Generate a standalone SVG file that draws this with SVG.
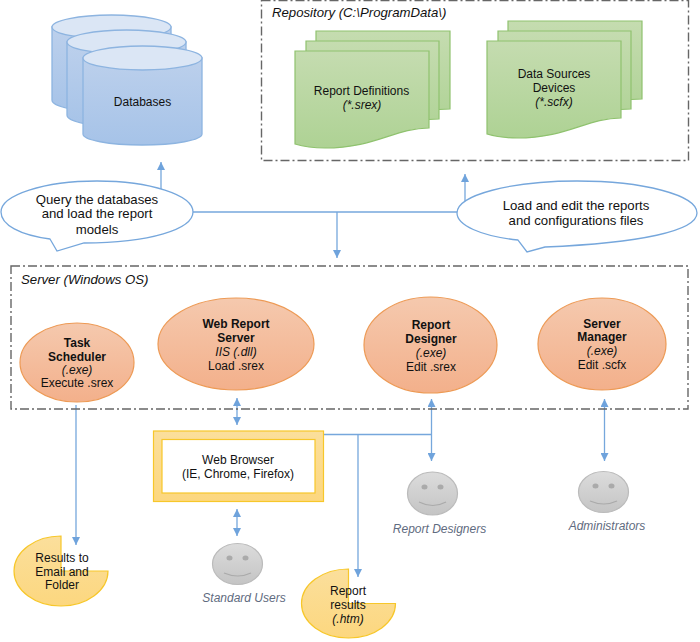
<svg xmlns="http://www.w3.org/2000/svg" width="700" height="642" viewBox="0 0 700 642">
<style>
text{font-family:"Liberation Sans",Arial,sans-serif;font-size:12px;fill:#111;text-anchor:middle}
.c{font-size:13.2px}
.i{font-style:italic}
.b{font-weight:bold}
.l{text-anchor:start;font-size:13.2px}
.u{fill:#5f6b80;font-style:italic;font-size:12px}
.box{fill:none;stroke:#666;stroke-width:1.4;stroke-dasharray:9 3 2 3}
.db{fill:url(#gb);stroke:#8db4e0;stroke-width:1.3}
.dbt{fill:#dbe6f5;stroke:#8db4e0;stroke-width:1.3}
.doc{fill:url(#gg);stroke:#8fc26e;stroke-width:1.2}
.el{fill:url(#go);stroke:#ed9a55;stroke-width:1.2}
.pie{fill:url(#gy);stroke:#f7c72a;stroke-width:1.2}
.call{fill:#fff;stroke:#76a7dc;stroke-width:1.3}
.fc{fill:url(#gs);stroke:#bbb;stroke-width:1.2}
.e{fill:#aaa}
.s{fill:none;stroke:#aaa;stroke-width:1.2}
.ln{fill:none;stroke:#76a7dc;stroke-width:1.3}
.ar{marker-end:url(#a)}
.dbl{marker-start:url(#as);marker-end:url(#a)}
</style>
<defs>
<linearGradient id="gb" x1="0" y1="0" x2="0" y2="1"><stop offset="0" stop-color="#bcd0ec"/><stop offset="1" stop-color="#a6c3e8"/></linearGradient>
<linearGradient id="gg" x1="0" y1="0" x2="0" y2="1"><stop offset="0" stop-color="#c5dcb0"/><stop offset="1" stop-color="#aed294"/></linearGradient>
<linearGradient id="go" x1="0" y1="0" x2="0" y2="1"><stop offset="0" stop-color="#f5c9ae"/><stop offset="1" stop-color="#f3b08b"/></linearGradient>
<linearGradient id="gy" x1="0" y1="0" x2="0" y2="1"><stop offset="0" stop-color="#fbdf9c"/><stop offset="1" stop-color="#fcd77f"/></linearGradient>
<linearGradient id="gs" x1="0" y1="0" x2="0" y2="1"><stop offset="0" stop-color="#dcdcdc"/><stop offset="1" stop-color="#c4c4c4"/></linearGradient>
<marker id="a" viewBox="0 0 8 8" refX="8" refY="4" markerWidth="8" markerHeight="8" markerUnits="userSpaceOnUse" orient="auto"><path d="M0 0L8 4L0 8z" fill="#6fa3dc"/></marker>
<marker id="as" viewBox="0 0 8 8" refX="0" refY="4" markerWidth="8" markerHeight="8" markerUnits="userSpaceOnUse" orient="auto"><path d="M8 0L0 4L8 8z" fill="#6fa3dc"/></marker>
</defs>

<g id="connectors">
<path class="ln" d="M193 212H457"/>
<path class="ln ar" d="M161 189V162"/>
<path class="ln ar" d="M465 202V174"/>
<path class="ln ar" d="M337 212V258"/>
<path class="ln ar" d="M76 405V545"/>
<path class="ln dbl" d="M237 398V425"/>
<path class="ln dbl" d="M237 509V536"/>
<path class="ln" d="M324 434.500H431.500"/>
<path class="ln dbl" d="M431.500 399V461"/>
<path class="ln dbl" d="M604.500 399V461"/>
<path class="ln ar" d="M358 434.500V577"/>
</g>

<g id="repository"><rect class="box" x="261.500" y="0.500" width="427" height="160"/><text class="l i" x="272" y="17">Repository (C:\ProgramData\)</text></g>
<g id="server"><rect class="box" x="11" y="266" width="677" height="143"/><text class="l i" x="21" y="284">Server (Windows OS)</text></g>

<g id="databases">
<path class="db" d="M52 27V100C52 107 78 112 111 112S171 107 171 100V27z"/><ellipse class="dbt" cx="111.500" cy="27" rx="59.500" ry="12"/>
<path class="db" d="M67 42V115C67 122 93 127 126 127S186 122 186 115V42z"/><ellipse class="dbt" cx="126.500" cy="42" rx="59.500" ry="12"/>
<path class="db" d="M83 58V134C83 140 109 145 142 145S202 140 202 134V58z"/><ellipse class="dbt" cx="142.500" cy="58" rx="59.500" ry="12"/>
<text x="142.500" y="106">Databases</text>
</g>

<g id="report-definitions">
<path class="doc" d="M316 31H450V109C415 109 395 127 345 127Q328 127 316 122z"/>
<path class="doc" d="M306 41H439V119C405 119 385 137 335 137Q318 137 306 132z"/>
<path class="doc" d="M295 51H429V128C395 128 375 148 325 148Q308 148 295 144z"/>
<text x="361.500" y="95">Report Definitions</text><text class="i" x="362" y="109">(*.srex)</text>
</g>
<g id="data-sources">
<path class="doc" d="M508 21H642V99C607 99 587 117 537 117Q520 117 508 112z"/>
<path class="doc" d="M498 31H631V109C597 109 577 127 527 127Q510 127 498 122z"/>
<path class="doc" d="M487 41H621V118C587 118 567 138 517 138Q500 138 487 134z"/>
<text x="554" y="78">Data Sources</text><text x="554" y="92">Devices</text><text class="i" x="554" y="106">(*.scfx)</text>
</g>

<g id="callout-query">
<path class="call" d="M50 239C20 235 1 225 1 212C1 195 44 181 97 181S193 195 193 212S150 243 84 243L57 251z"/>
<text class="c" x="97" y="204">Query the databases</text><text class="c" x="97" y="218">and load the report</text><text class="c" x="97" y="234">models</text>
</g>
<g id="callout-load">
<path class="call" d="M518 240C480 236 457 225 457 213C457 195 511 181 577 181S697 195 697 213S640 243 545 247L527 252z"/>
<text class="c" x="576" y="210">Load and edit the reports</text><text class="c" x="576" y="225">and configurations files</text>
</g>

<g id="task-scheduler"><ellipse class="el" cx="77" cy="362.500" rx="57" ry="39.500"/>
<text class="b" x="77" y="347">Task</text><text class="b" x="77" y="361">Scheduler</text><text class="i" x="77" y="374">(.exe)</text><text x="77" y="387">Execute .srex</text></g>
<g id="web-report-server"><ellipse class="el" cx="236" cy="344" rx="78" ry="46"/>
<text class="b" x="236" y="328">Web Report</text><text class="b" x="236" y="342">Server</text><text class="i" x="236" y="356">IIS (.dll)</text><text x="236" y="370">Load .srex</text></g>
<g id="report-designer"><ellipse class="el" cx="430.500" cy="345" rx="66.500" ry="48"/>
<text class="b" x="431" y="329">Report</text><text class="b" x="431" y="343">Designer</text><text class="i" x="431" y="357">(.exe)</text><text x="431" y="371">Edit .srex</text></g>
<g id="server-manager"><ellipse class="el" cx="602" cy="344" rx="64" ry="46"/>
<text class="b" x="602" y="328">Server</text><text class="b" x="602" y="341">Manager</text><text class="i" x="602" y="355">(.exe)</text><text x="602" y="369">Edit .scfx</text></g>

<g id="web-browser"><rect x="153.500" y="431" width="170" height="70.500" fill="url(#gy)" stroke="#f7c72a" stroke-width="1.200"/><rect x="162" y="439.500" width="153" height="53.500" fill="#fff" stroke="#f7c72a" stroke-width="1.200"/>
<text x="238" y="464">Web Browser</text><text x="238" y="478">(IE, Chrome, Firefox)</text></g>

<g id="results-email"><path class="pie" d="M61 536A47 35 0 1 0 108 571H61z"/>
<text x="62" y="562">Results to</text><text x="62" y="576">Email and</text><text x="62" y="589">Folder</text></g>
<g id="report-results"><path class="pie" d="M348.500 569A47 34.500 0 1 0 395.500 603.500H348.500z"/>
<text x="348" y="595">Report</text><text x="348" y="609">results</text><text class="i" x="348" y="623">(.htm)</text></g>

<g id="standard-users"><ellipse class="fc" cx="237.500" cy="564" rx="25" ry="20.500"/><ellipse class="e" cx="229.500" cy="558" rx="3" ry="2.500"/><ellipse class="e" cx="245.500" cy="558" rx="3" ry="2.500"/><path class="s" d="M224 573Q238 579 251 573"/><text class="u" x="244" y="602">Standard Users</text></g>
<g id="report-designers"><ellipse class="fc" cx="432.500" cy="493.500" rx="25" ry="21.500"/><ellipse class="e" cx="424.500" cy="487" rx="3" ry="2.500"/><ellipse class="e" cx="440.500" cy="487" rx="3" ry="2.500"/><path class="s" d="M419 502Q433 509 446 502"/><text class="u" x="439.500" y="533">Report Designers</text></g>
<g id="administrators"><ellipse class="fc" cx="603.500" cy="492" rx="25" ry="20.500"/><ellipse class="e" cx="595.500" cy="486" rx="3" ry="2.500"/><ellipse class="e" cx="611.500" cy="486" rx="3" ry="2.500"/><path class="s" d="M590 501Q604 507 617 501"/><text class="u" x="607" y="530">Administrators</text></g>
</svg>
